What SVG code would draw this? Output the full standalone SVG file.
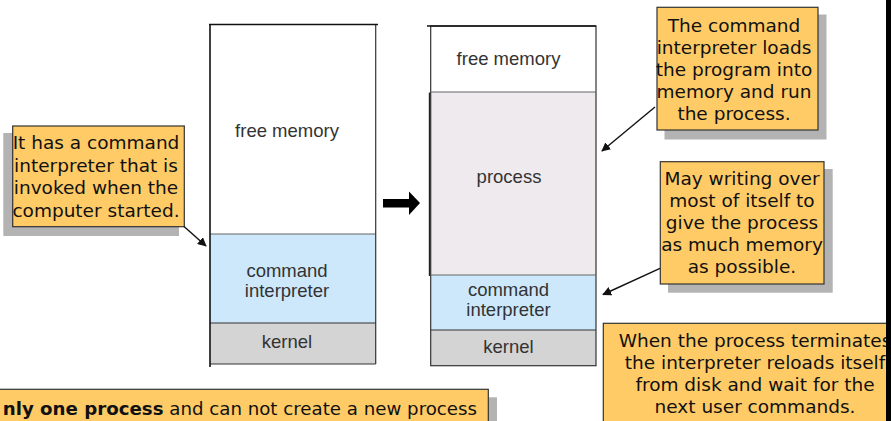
<svg xmlns="http://www.w3.org/2000/svg" width="891" height="421" viewBox="0 0 891 421">
  <style>
    .mem { font-family: "Liberation Sans", Arial, sans-serif; font-size: 18.5px; fill: #333; text-anchor: middle; }
    .note { font-family: "DejaVu Sans", Verdana, sans-serif; font-size: 18.5px; fill: #111; text-anchor: middle; }
    .box { fill: #ffcb66; stroke: #333; stroke-width: 1.2; }
    .shadow { fill: #b3b3b3; }
    .div { stroke: #666; stroke-width: 1.2; }
    .cmd { fill: #cde8fb; }
    .krn { fill: #d4d4d4; }
    .prc { fill: #eeeaee; }
    .pointer { stroke: #111; stroke-width: 1.4; fill: none; marker-end: url(#head); }
  </style>
  <defs>
    <marker id="head" viewBox="0 0 10 10" refX="9" refY="5" markerWidth="9" markerHeight="9" markerUnits="userSpaceOnUse" orient="auto">
      <path d="M0,0 L10,5 L0,10 Z" fill="#111"/>
    </marker>
  </defs>
  <rect width="891" height="421" fill="#fff"/>

  <!-- memory layout before loading -->
  <g id="memory-before">
    <rect x="210" y="24.5" width="165.7" height="209.5" fill="#fff"/>
    <rect class="cmd" x="210" y="234" width="165.7" height="89"/>
    <rect class="krn" x="210" y="323" width="165.7" height="41"/>
    <line class="div" x1="210" y1="234" x2="375.7" y2="234"/>
    <line x1="210" y1="323" x2="375.7" y2="323" stroke="#333" stroke-width="1.2"/>
    <line x1="375.7" y1="24.5" x2="375.7" y2="364" stroke="#333" stroke-width="1.2"/>
    <line x1="210" y1="364" x2="375.7" y2="364" stroke="#333" stroke-width="1.2"/>
    <line x1="210" y1="24" x2="210" y2="367" stroke="#111" stroke-width="1.6"/>
    <line x1="209" y1="24.5" x2="378" y2="24.5" stroke="#111" stroke-width="1.6"/>
    <text class="mem" x="287" y="137">free memory</text>
    <text class="mem" x="287" y="277">command</text>
    <text class="mem" x="287" y="297">interpreter</text>
    <text class="mem" x="287" y="348">kernel</text>
  </g>

  <!-- transition arrow -->
  <g id="transition">
    <polygon points="383,199 409,199 409,191.5 420,203 409,215 409,207.5 383,207.5" fill="#000"/>
  </g>

  <!-- memory layout while a process runs -->
  <g id="memory-running">
    <rect x="430.7" y="26" width="165.3" height="66" fill="#fff"/>
    <rect class="prc" x="430.7" y="92" width="165.3" height="183"/>
    <rect class="cmd" x="430.7" y="275" width="165.3" height="55"/>
    <rect class="krn" x="430.7" y="330" width="165.3" height="35.7"/>
    <rect x="430.7" y="26" width="165.3" height="339.7" fill="none" stroke="#333" stroke-width="1.2"/>
    <line class="div" x1="430.7" y1="92" x2="596" y2="92"/>
    <line class="div" x1="430.7" y1="275" x2="596" y2="275"/>
    <line x1="430.7" y1="330" x2="596" y2="330" stroke="#333" stroke-width="1.2"/>
    <line x1="429.5" y1="92.5" x2="429.5" y2="276" stroke="#222" stroke-width="1.4"/>
    <line x1="427" y1="26" x2="596" y2="26" stroke="#111" stroke-width="1.6"/>
    <text class="mem" x="508.5" y="65">free memory</text>
    <text class="mem" x="509" y="183">process</text>
    <text class="mem" x="508.5" y="296">command</text>
    <text class="mem" x="508.5" y="316">interpreter</text>
    <text class="mem" x="508.5" y="352.5">kernel</text>
  </g>

  <!-- callout notes -->
  <g id="note-startup">
    <rect class="shadow" x="3.3" y="133" width="175.7" height="103"/>
    <rect class="box" x="12.7" y="126" width="171.6" height="100.7"/>
    <text class="note" x="96" y="149">It has a command</text>
    <text class="note" x="96" y="171.5">interpreter that is</text>
    <text class="note" x="96" y="194">invoked when the</text>
    <text class="note" x="96" y="216.5">computer started.</text>
  </g>

  <g id="note-load">
    <rect class="shadow" x="664.5" y="14.5" width="162" height="125"/>
    <rect class="box" x="657" y="7.3" width="161" height="122.7"/>
    <text class="note" x="734" y="32">The command</text>
    <text class="note" x="734" y="54">interpreter loads</text>
    <text class="note" x="734" y="76">the program into</text>
    <text class="note" x="734" y="98">memory and run</text>
    <text class="note" x="734" y="120">the process.</text>
  </g>

  <g id="note-overwrite">
    <rect class="shadow" x="668" y="169" width="164.7" height="123.7"/>
    <rect class="box" x="660.3" y="161.7" width="163.7" height="122.3"/>
    <text class="note" x="742" y="185">May writing over</text>
    <text class="note" x="742" y="207">most of itself to</text>
    <text class="note" x="742" y="229">give the process</text>
    <text class="note" x="742" y="251">as much memory</text>
    <text class="note" x="742" y="273">as possible.</text>
  </g>

  <g id="note-reload">
    <rect class="box" x="603.3" y="323.3" width="310" height="110"/>
    <text class="note" x="755" y="346.7">When the process terminates</text>
    <text class="note" x="755" y="368.5">the interpreter reloads itself</text>
    <text class="note" x="755" y="390.5">from disk and wait for the</text>
    <text class="note" x="755" y="412.7">next user commands.</text>
  </g>

  <g id="note-single">
    <rect class="shadow" x="-2" y="397.3" width="499" height="40"/>
    <rect class="box" x="-10" y="389.3" width="498.3" height="40"/>
    <text class="note" x="477" y="415" style="text-anchor:end; font-size:18.2px"><tspan font-weight="bold">nly one process</tspan> and can not create a new process</text>
  </g>

  <!-- pointers from notes to memory regions -->
  <g id="connectors">
    <line class="pointer" x1="184" y1="226.5" x2="206" y2="246"/>
    <line class="pointer" x1="655" y1="107" x2="602" y2="151"/>
    <line class="pointer" x1="660" y1="268.3" x2="603" y2="294.5"/>
  </g>

  <!-- frame edge -->
  <rect x="886" y="0" width="5" height="421" fill="#000"/>
</svg>
